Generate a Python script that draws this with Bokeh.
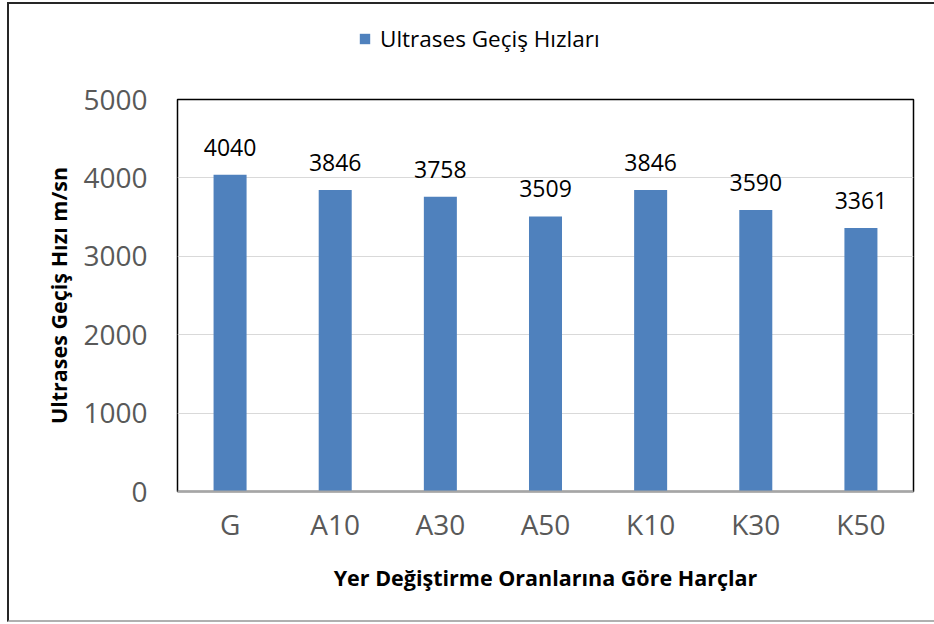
from bokeh.plotting import figure
from bokeh.layouts import column
from bokeh.models import FactorRange, Range1d, FixedTicker, Legend, LegendItem, ColumnDataSource
from bokeh.core.properties import value
from bokeh.embed import file_html
from bokeh.resources import INLINE

categories = ["G", "A10", "A30", "A50", "K10", "K30", "K50"]
speeds = [4040, 3846, 3758, 3509, 3846, 3590, 3361]
y_ticks = [0, 1000, 2000, 3000, 4000, 5000]
series_name = "Ultrases Geçiş Hızları"
x_title = "Yer Değiştirme Oranlarına Göre Harçlar"
y_title = "Ultrases Geçiş Hızı m/sn"

FONT = "Open Sans"
BAR = "#4F81BD"

src = ColumnDataSource(dict(cat=categories, v=speeds, lbl=[str(s) for s in speeds]))

# ---- legend strip (top): zero-width bars, only the legend swatch shows ----
lg = figure(width=925, height=60, output_backend="svg", toolbar_location=None,
            x_range=FactorRange(*categories), y_range=Range1d(0, 5000),
            x_axis_type=None, y_axis_type=None, min_border=0)
lg.outline_line_color = None
lg.xgrid.grid_line_color = None
lg.ygrid.grid_line_color = None
lr = lg.vbar(x="cat", top="v", width=0, source=src, fill_color=BAR, line_color=None)
legend = Legend(items=[LegendItem(label=series_name, renderers=[lr])], location=(181, 10),
                padding=0, margin=0, border_line_color=None, background_fill_alpha=0,
                glyph_width=13, glyph_height=13, label_standoff=9, label_height=24,
                label_text_font=FONT, label_text_font_size="22.5px", label_text_color="black")
lg.add_layout(legend, "center")

# ---- main chart ----
p = figure(width=925, height=556, x_range=FactorRange(*categories, range_padding=0),
           y_range=Range1d(0, 5000), output_backend="svg", toolbar_location=None,
           min_border_left=168, min_border_top=35, min_border_right=21, min_border_bottom=129)

p.outline_line_color = "black"
p.outline_line_width = 1.5

r = p.vbar(x="cat", top="v", width=0.314, source=src, fill_color=BAR, line_color=None)
p.text(x="cat", y="v", text="lbl", source=src, text_align="center", text_baseline="bottom",
       y_offset=-19, text_font=value(FONT), text_font_size="23px", text_color="black")

p.yaxis.ticker = FixedTicker(ticks=y_ticks)
p.yaxis.major_tick_line_color = None
p.yaxis.minor_tick_line_color = None
p.yaxis.axis_line_color = None
p.yaxis.major_label_text_font = FONT
p.yaxis.major_label_text_font_size = "28px"
p.yaxis.major_label_text_color = "#595959"
p.yaxis.major_label_standoff = 24
p.yaxis.axis_label = y_title
p.yaxis.axis_label_text_font = FONT
p.yaxis.axis_label_text_font_size = "21.5px"
p.yaxis.axis_label_text_font_style = "bold"
p.yaxis.axis_label_text_color = "black"
p.yaxis.axis_label_standoff = 7

p.xaxis.major_tick_line_color = None
p.xaxis.axis_line_color = "#A6A6A6"
p.xaxis.axis_line_width = 2
p.xaxis.major_label_text_font = FONT
p.xaxis.major_label_text_font_size = "28px"
p.xaxis.major_label_text_color = "#595959"
p.xaxis.major_label_standoff = 7
p.xaxis.axis_label = x_title
p.xaxis.axis_label_text_font = FONT
p.xaxis.axis_label_text_font_size = "21.5px"
p.xaxis.axis_label_text_font_style = "bold"
p.xaxis.axis_label_text_color = "black"
p.xaxis.axis_label_standoff = 17

p.xgrid.grid_line_color = None
p.ygrid.grid_line_color = "#D9D9D9"
p.ygrid.grid_line_width = 1

layout = column(lg, p, spacing=0)
layout.styles = {"margin-left": "7px", "margin-top": "2px",
                 "border-left": "2px solid #262626", "border-top": "2px solid #262626",
                 "border-bottom": "2px solid #B0B0B0"}

open("out.html", "w").write(file_html(layout, INLINE))
